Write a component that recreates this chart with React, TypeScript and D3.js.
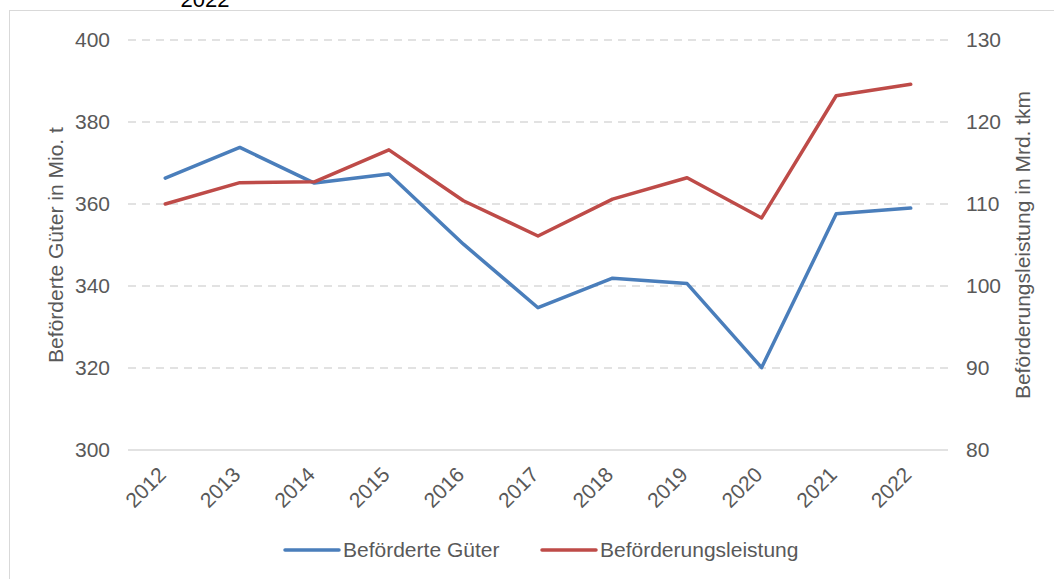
import React from 'react';
import * as d3 from 'd3';

const years = ['2012', '2013', '2014', '2015', '2016', '2017', '2018', '2019', '2020', '2021', '2022'];
const gueter = [366.3, 373.8, 365.1, 367.3, 350.2, 334.7, 341.9, 340.6, 320.1, 357.6, 359.0];
const leistung = [110.0, 112.6, 112.7, 116.6, 110.4, 106.1, 110.6, 113.2, 108.3, 123.2, 124.6];
const leftTicks = [300, 320, 340, 360, 380, 400];
const rightTicks = [80, 90, 100, 110, 120, 130];

const W = 1054;
const H = 579;
const FONT = '"Liberation Sans", Arial, sans-serif';
const BLUE = '#4a7ebb';
const RED = '#be4b48';
const GRID = '#d9d9d9';
const LABEL = '#595959';
const FS = 21;

const App = () => {
    // plot area
    const left = 128, right = 948, top = 40, bottom = 450;

    const x = d3.scaleBand().domain(years).range([left, right]);
    const yL = d3.scaleLinear().domain([300, 400]).range([bottom, top]);
    const yR = d3.scaleLinear().domain([80, 130]).range([bottom, top]);
    const cx = (d: string) => (x(d) || 0) + x.bandwidth() / 2;

    const lineL = d3.line<number>().x((_, i) => cx(years[i])).y(d => yL(d));
    const lineR = d3.line<number>().x((_, i) => cx(years[i])).y(d => yR(d));

    const midY = (top + bottom) / 2;

    return (
        <svg width={W} height={H} style={{ position: 'absolute', left: 0, top: 0, background: '#fff' }} fontFamily={FONT}>
            {/* frame */}
            <rect x={9.5} y={10.5} width={1100} height={700} fill="none" stroke={GRID} strokeWidth={1} />
            {/* title, cut off at the top in the source */}
            <text x={205} y={7} textAnchor="middle" fontSize={22} fill="#000">2022</text>

            {/* grid */}
            {leftTicks.map(t => (
                <line key={t} x1={left} x2={right} y1={yL(t)} y2={yL(t)} stroke={GRID} strokeWidth={1.5}
                    strokeDasharray={t === 300 ? undefined : '8,6'} />
            ))}

            {/* left ticks */}
            {leftTicks.map(t => (
                <text key={t} x={110} y={yL(t)} dy="0.35em" textAnchor="end" fontSize={FS} fill={LABEL}>{t}</text>
            ))}
            {/* right ticks */}
            {rightTicks.map(t => (
                <text key={t} x={966} y={yR(t)} dy="0.35em" textAnchor="start" fontSize={FS} fill={LABEL}>{t}</text>
            ))}

            {/* x labels */}
            {years.map(yr => (
                <text key={yr} transform={`translate(${cx(yr) + 2},${bottom + 26}) rotate(-45)`}
                    textAnchor="end" fontSize={FS} fill={LABEL}>{yr}</text>
            ))}

            {/* axis titles */}
            <text transform={`translate(${63},${midY}) rotate(-90)`} textAnchor="middle" fontSize={FS} fill={LABEL}>
                Beförderte Güter in Mio. t
            </text>
            <text transform={`translate(${1030},${midY}) rotate(-90)`} textAnchor="middle" fontSize={FS} fill={LABEL}>
                Beförderungsleistung in Mrd. tkm
            </text>

            {/* series */}
            <path d={lineL(gueter) || ''} fill="none" stroke={BLUE} strokeWidth={3.5} strokeLinejoin="round" strokeLinecap="round" />
            <path d={lineR(leistung) || ''} fill="none" stroke={RED} strokeWidth={3.5} strokeLinejoin="round" strokeLinecap="round" />

            {/* legend */}
            <g>
                <line x1={285} x2={339} y1={550} y2={550} stroke={BLUE} strokeWidth={3.5} strokeLinecap="round" />
                <text x={343} y={557} fontSize={FS} fill={LABEL}>Beförderte Güter</text>
                <line x1={542} x2={596} y1={550} y2={550} stroke={RED} strokeWidth={3.5} strokeLinecap="round" />
                <text x={600} y={557} fontSize={FS} fill={LABEL}>Beförderungsleistung</text>
            </g>
        </svg>
    );
};

export default App;
